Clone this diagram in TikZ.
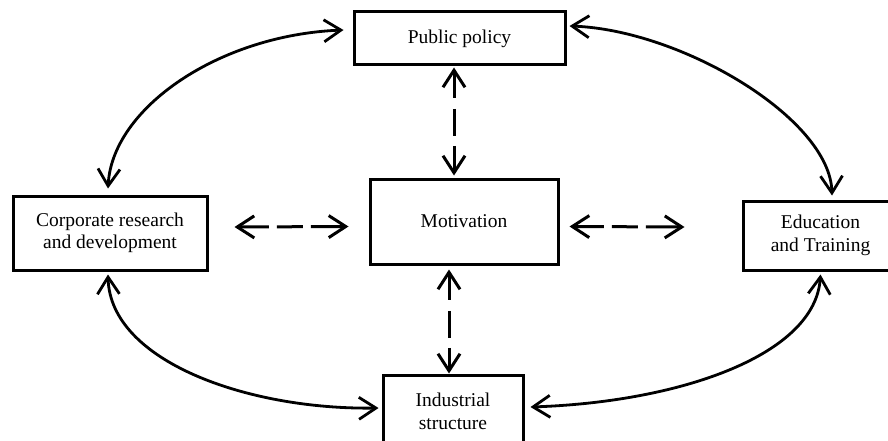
\documentclass[tikz,border=0pt]{standalone}
\usepackage{fontspec}
\setmainfont{Liberation Serif}
\usetikzlibrary{arrows.meta,calc}
\begin{document}
\begin{tikzpicture}[x=1pt,y=-1pt,
  box/.style={draw=black,line width=3pt,rectangle,align=center,inner sep=0pt,
    font=\fontsize{19.5}{22.5}\selectfont},
  biarrow/.style={line width=2.8pt,{Straight Barb[length=17pt,width=22pt]}-{Straight Barb[length=17pt,width=22pt]}},
  dashhor/.style={biarrow,line width=3pt,dash pattern=on 30pt off 8pt on 26pt off 8pt on 80pt},
  dashver/.style={biarrow,line width=3pt,dash pattern=on 26pt off 11pt on 27pt off 10pt on 80pt}]
\useasboundingbox (0,0) rectangle (888,441);
\fill[white] (0,0) rectangle (888,441);
\node[box,minimum width=211pt,minimum height=53pt] (pub) at (459.5,38.5) {Public policy};
\node[box,minimum width=194pt,minimum height=74pt] (corp) at (110,233) {Corporate research\\and development};
\node[box,minimum width=188pt,minimum height=85pt] (mot) at (464,221.5) {Motivation};
\node[box,minimum width=155pt,minimum height=69pt] (edu) at (820.5,235.5) {Education\\and Training};
\node[box,minimum width=140pt,minimum height=73pt] (ind) at (453,411.5) {Industrial\\structure};
% curved connectors
\draw[biarrow] ($(corp.north)+(-2,-6)$) .. controls +(4,-80) and +(-125,5) .. ($(pub.west)+(-9,-8.5)$);
\draw[biarrow] ($(pub.east)+(3,-12.5)$) .. controls +(112,4) and +(-2,-77) .. ($(edu.north)+(11.5,-4)$);
\draw[biarrow] ($(corp.south)+(-2,3)$) .. controls +(2,87) and +(-130,2) .. ($(ind.west)+(-3,-3.5)$);
\draw[biarrow] ($(ind.east)+(6,-4.5)$) .. controls +(151,-5) and +(-5,80) .. ($(edu.south)+(0,3)$);
% dashed connectors
\draw[dashhor] ($(corp.east)+(26,-6)$) -- ($(mot.west)+(-20,5)$);
\draw[dashhor] ($(mot.east)+(10,5)$) -- ($(edu.west)+(-57,-8.5)$);
\draw[dashver] ($(pub.south)+(-5.5,1)$) -- ($(mot.north)+(-10,-2)$);
\draw[dashver] ($(mot.south)+(-15,4)$) -- ($(ind.north)+(-4,0)$);
\end{tikzpicture}
\end{document}
